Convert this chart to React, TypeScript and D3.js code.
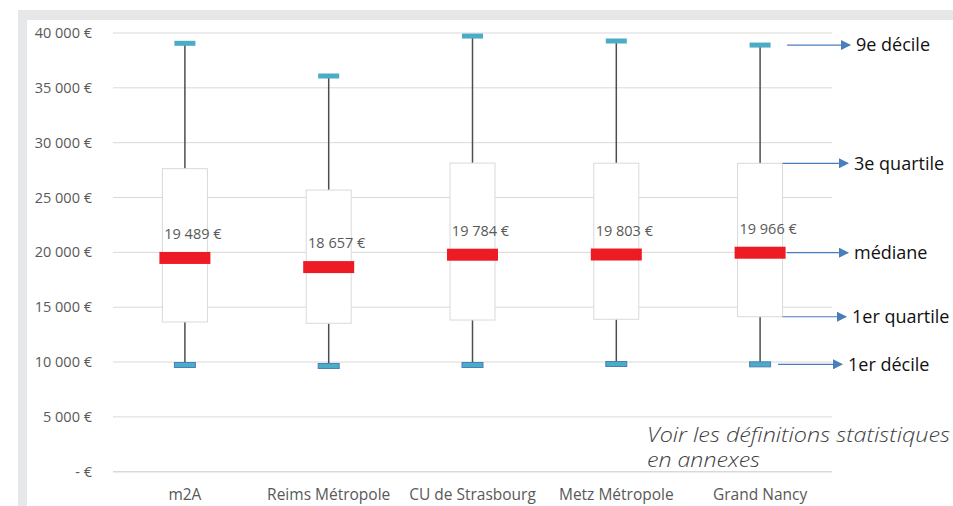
import React from "react";
import * as d3 from "d3";

const categories = ["m2A", "Reims Métropole", "CU de Strasbourg", "Metz Métropole", "Grand Nancy"];
const decile1 = [9730, 9640, 9730, 9820, 9790];
const quartile1 = [13650, 13530, 13830, 13900, 14130];
const medians = [19489, 18657, 19784, 19803, 19966];
const quartile3 = [27630, 25680, 28140, 28130, 28120];
const decile9 = [39060, 36080, 39720, 39270, 38900];
const yTicks = [0, 5000, 10000, 15000, 20000, 25000, 30000, 35000, 40000];
const annotations = [
  { label: "9e décile", series: "d9" },
  { label: "3e quartile", series: "q3" },
  { label: "médiane", series: "med" },
  { label: "1er quartile", series: "q1" },
  { label: "1er décile", series: "d1" },
];

const W = 953;
const H = 506;
const font = "'Open Sans', 'Noto Sans', sans-serif";

const fmt = (v: number) => {
  if (v === 0) return "- €";
  const s = String(Math.round(v));
  return s.replace(/\B(?=(\d{3})+(?!\d))/g, " ") + " €";
};

export default function App() {
  const x = d3.scaleBand<string>().domain(categories).range([113, 832]);
  const y = d3.scaleLinear().domain([0, 40000]).range([471.7, 33]);
  const cx = (i: number) => (x(categories[i]) as number) + x.bandwidth() / 2;
  const boxW = 45;
  const medW = 51;
  const capW = 21;
  const last = categories.length - 1;
  const lx = cx(last);

  const annY: Record<string, number> = {
    d9: y(decile9[last]),
    q3: y(quartile3[last]),
    med: y(medians[last]),
    q1: y(quartile1[last]),
    d1: y(decile1[last]),
  };
  const annStart: Record<string, number> = {
    d9: lx + 27,
    q3: lx + boxW / 2,
    med: lx + medW / 2 + 1,
    q1: lx + boxW / 2,
    d1: lx + 18,
  };
  const annEnd: Record<string, number> = { d9: 850, q3: 848, med: 848, q1: 846, d1: 842 };

  return (
    <svg width={W} height={H} style={{ position: "absolute", left: 0, top: 0, background: "#fff" }}>
      <defs>
        <marker id="arr" viewBox="0 0 10 10" refX="9" refY="5" markerWidth="10" markerHeight="10" markerUnits="userSpaceOnUse" orient="auto">
          <path d="M0,0 L10,5 L0,10 Z" fill="#4a7ebb" />
        </marker>
      </defs>
      {/* frame */}
      <rect x={18} y={10} width={W - 18} height={10} fill="#e6e7e8" />
      <rect x={18} y={10} width={9} height={H - 10} fill="#e6e7e8" />

      {/* gridlines + y labels */}
      {yTicks.map((t) => (
        <g key={t}>
          <line x1={113} x2={832} y1={y(t)} y2={y(t)} stroke="#d9d9d9" strokeWidth={t === 0 ? 1.6 : 1} />
          <text x={92} y={y(t)} dy="0.35em" textAnchor="end" fontFamily={font} fontSize={14.5} fill="#595959">
            {fmt(t)}
          </text>
        </g>
      ))}

      {/* category labels */}
      {categories.map((c, i) => (
        <text key={c} x={cx(i)} y={500} textAnchor="middle" fontFamily={font} fontSize={15.5} fill="#595959">
          {c}
        </text>
      ))}

      {/* boxes */}
      {categories.map((c, i) => {
        const xc = cx(i);
        return (
          <g key={c}>
            <line x1={xc} x2={xc} y1={y(decile9[i])} y2={y(quartile3[i])} stroke="#4d4d4d" strokeWidth={1.5} />
            <line x1={xc} x2={xc} y1={y(quartile1[i])} y2={y(decile1[i])} stroke="#4d4d4d" strokeWidth={1.5} />
            <rect
              x={xc - boxW / 2}
              y={y(quartile3[i])}
              width={boxW}
              height={y(quartile1[i]) - y(quartile3[i])}
              fill="#fff"
              stroke="#d9d9d9"
              strokeWidth={1}
            />
            <rect x={xc - capW / 2} y={y(decile9[i]) - 2.5} width={capW} height={5} fill="#4bacc6" />
            <rect
              x={xc - capW / 2}
              y={y(decile1[i]) - 2.5}
              width={capW}
              height={5}
              fill="#4bacc6"
              stroke="#4a7ebb"
              strokeWidth={1}
            />
            <rect x={xc - medW / 2} y={y(medians[i]) - 6} width={medW} height={12} fill="#ed1c24" />
            <text x={xc + 8} y={y(medians[i]) - 19} textAnchor="middle" fontFamily={font} fontSize={14.5} fill="#595959">
              {fmt(medians[i])}
            </text>
          </g>
        );
      })}

      {/* annotations */}
      {annotations.map((a) => (
        <g key={a.series}>
          <line
            x1={annStart[a.series]}
            x2={annEnd[a.series]}
            y1={annY[a.series]}
            y2={annY[a.series]}
            stroke="#4a7ebb"
            strokeWidth={1.2}
            markerEnd="url(#arr)"
          />
          <text x={annEnd[a.series] + 6} y={annY[a.series]} dy="0.35em" fontFamily={font} fontSize={18} fill="#111">
            {a.label}
          </text>
        </g>
      ))}

      {/* note */}
      <text x={647} y={442} fontFamily={font} fontStyle="italic" fontWeight={300} fontSize={20} fill="#404040" textLength={303} lengthAdjust="spacingAndGlyphs">
        Voir les définitions statistiques
      </text>
      <text x={647} y={467} fontFamily={font} fontStyle="italic" fontWeight={300} fontSize={20} fill="#404040" textLength={113} lengthAdjust="spacingAndGlyphs">
        en annexes
      </text>
    </svg>
  );
}
